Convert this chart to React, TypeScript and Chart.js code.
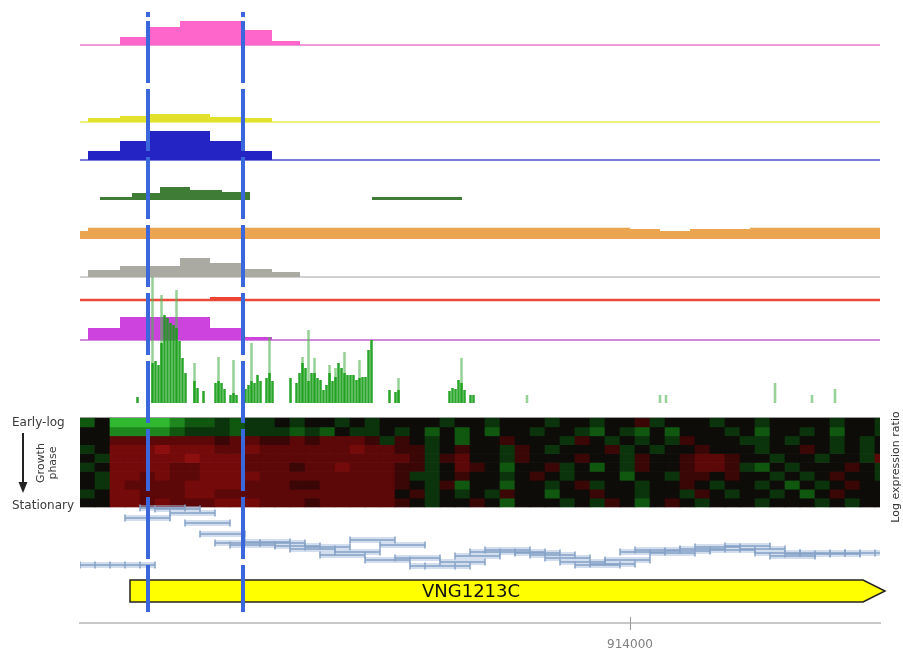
import React, { useEffect, useRef } from 'react';
import { Chart, registerables } from 'chart.js';

Chart.register(...registerables);

// ---------------- data (genomic coordinates in bp) ----------------
const xRange = [912900, 914500];
const xTickValues = [914000];

// shared bin edges of the step tracks
const binEdges = [912916, 912980, 913040, 913100, 913160, 913224, 913284, 913340];
const pinkValues = [0, 8, 18, 24, 24, 15, 4];
const yellowValues = [4, 6, 8, 8, 5, 4, 0];
const blueValues = [9, 19, 29, 29, 19, 9, 0];
const grayValues = [7, 11, 11, 19, 14, 8, 5];
const redValues = [0, 0, 0, 0, 3, 0, 0];
const magentaValues = [12, 23, 23, 23, 12, 3, 0];

const darkGreenEdges = [912940, 913004, 913060, 913120, 913184, 913240, 913484, 913664];
const darkGreenValues = [3, 7, 13, 10, 8, 0, 3];

const orangeEdges = [912900, 912916, 914000, 914060, 914120, 914240, 914500];
const orangeValues = [8, 11.3, 10, 8, 10, 11.3];

// read coverage (green bars), bins of 6 bp
const readBinStart = 913015;
const readBinStep = 6;
const readCounts = [
  6, 0, 0, 0, 0, 40, 42, 38, 60, 88, 85, 80, 78, 75, 62, 45, 30, 0, 0, 22,
  15, 0, 12, 0, 0, 0, 20, 22, 20, 14, 0, 8, 10, 8, 0, 0, 14, 18, 22, 20,
  28, 22, 0, 25, 30, 22, 0, 0, 0, 0, 0, 25, 0, 20, 30, 40, 35, 22, 30, 30,
  25, 23, 13, 18, 30, 22, 26, 40, 35, 30, 28, 28, 28, 23, 25, 26, 26, 53, 63, 0,
  0, 0, 0, 0, 13, 0, 11, 13, 0, 0, 0, 0, 0, 0, 0, 0, 0, 0, 0, 0,
  0, 0, 0, 0, 12, 15, 14, 23, 20, 13, 0, 8, 8,
];
const readPeaks = [
  [913045, 126], [913063, 108], [913093, 113], [913129, 40], [913177, 46],
  [913207, 43], [913243, 60], [913279, 66], [913345, 46], [913357, 73],
  [913369, 45], [913399, 38], [913411, 35], [913429, 51], [913459, 43],
  [913537, 25], [913663, 45],
];
const readIsolated = [
  [913794, 8], [914060, 8], [914072, 8], [914290, 20], [914364, 8], [914410, 14],
];

// expression heatmap: rows early-log -> stationary, one column per probe
// code: a..d = green (down) levels 1..4, 1..4 = red (up) levels, 0 = black
const heatStart = 912900;
const heatStep = 30;
const heatRows = [
  'b0ddddcbbabaa0a' + '00a0a0000a00a00' + '0a00a001a000a00' + 'a0000a00a',
  '00ccccbaaabaaab' + 'ab0aa0a0b0b0b00' + 'a00ab0ab0b000a0' + 'b00a0b00a',
  '002222222122112' + '12221a10a0b0010' + '00a10a0a0a1000a' + 'a0a00a0a0',
  'a03334333223222' + '22232211a0100a1' + '0a0001a0a001000' + 'a0010a0a0',
  '0a3333343332222' + '22222221a1200a1' + '000100a10012210' + '0a00a00a2',
  'a03333223332221' + '22322211a0210b0' + '01a0b0a1001221a' + 'b0a00010a',
  '0a3323223333222' + '2222221aa0100a0' + '10a000b00a11010' + '0a0a0100a',
  '0a3222233332221' + '12222210a1b00b0' + '0a01a00a0010a00' + 'a0b0a0100',
  'a03322233222222' + '22222201a0a0a10' + '0b00100a00a10a0' + '0a0b01000',
  '003323222333222' + '12222210a0010b0' + '00a0a10b010a000' + 'a000a0a00',
];

// tiling array probes (log ratio)
const tileStart = 912900;
const tileStep = 30;
const tileLength = 90;
const tileValues = [
  0, 0, 0, 2.35, 2.85, 2.8, 2.6, 2.1, 1.55, 1.1, 1.0, 1.15, 1.1, 0.95, 0.8,
  0.9, 0.5, 0.65, 1.25, 0.25, 1.0, 0.35, -0.05, -0.05, 0.15, 0.45, 0.65, 0.75,
  0.65, 0.6, 0.5, 0.35, 0.15, 0.0, 0.05, 0.25, 0.65, 0.75, 0.6, 0.7, 0.8, 0.9,
  0.75, 0.95, 0.8, 0.6, 0.45, 0.55, 0.6, 0.55, 0.6, 0.6, 0.6,
];

const genes = [{ name: 'VNG1213C', start: 913000, end: 914510, labelAt: 913682 }];
const markerPositions = [913036, 913226];

// ---------------- layout / style ----------------
const W = 903;
const H = 654;
const CHART_TOP = 0;
const CHART_BOTTOM = 623;
const FONT = '"DejaVu Sans", Verdana, sans-serif';

function trackAxis(basePx: number, pxPerUnit: number) {
  return {
    type: 'linear',
    display: false,
    min: -(CHART_BOTTOM - basePx) / pxPerUnit,
    max: (basePx - CHART_TOP) / pxPerUnit,
  };
}

function stepPoints(edges: number[], values: number[]) {
  const pts = values.map((v, i) => ({ x: edges[i], y: v }));
  pts.push({ x: edges[values.length], y: 0 });
  return pts;
}

function baseline(axis: string, color: string, width: number) {
  return {
    type: 'line',
    yAxisID: axis,
    data: [{ x: xRange[0], y: 0 }, { x: xRange[1], y: 0 }],
    borderColor: color,
    borderWidth: width,
    pointRadius: 0,
    fill: false,
    order: 6,
  };
}

function stepFill(axis: string, edges: number[], values: number[], color: string) {
  return {
    type: 'line',
    yAxisID: axis,
    data: stepPoints(edges, values),
    stepped: true,
    borderColor: 'rgba(0,0,0,0)',
    borderWidth: 1,
    backgroundColor: color,
    pointRadius: 0,
    fill: 'origin',
    order: 5,
  };
}

const greenShades = ['', 'rgb(12,52,12)', 'rgb(16,88,16)', 'rgb(30,135,30)', 'rgb(48,185,48)'];
const redShades = ['', 'rgb(58,6,6)', 'rgb(92,8,8)', 'rgb(116,10,10)', 'rgb(140,14,14)'];
function heatColor(ch: string) {
  const gi = 'abcd'.indexOf(ch);
  if (gi >= 0) return greenShades[gi + 1];
  const ri = '1234'.indexOf(ch);
  if (ri >= 0) return redShades[ri + 1];
  return 'rgb(14,12,9)';
}

const overlayPlugin = {
  id: 'overlay',
  afterDatasetsDraw(chart: any) {
    const { ctx, chartArea } = chart;
    const xs = chart.scales.x;
    ctx.save();
    // heatmap top border
    ctx.strokeStyle = '#9a9a9a';
    ctx.lineWidth = 1;
    ctx.beginPath();
    ctx.moveTo(chartArea.left, 417.5);
    ctx.lineTo(chartArea.right, 417.5);
    ctx.stroke();
    // genes
    genes.forEach((g) => {
      const x0 = xs.getPixelForValue(g.start);
      const tip = xs.getPixelForValue(g.end);
      const body = tip - 22;
      ctx.beginPath();
      ctx.moveTo(x0, 580);
      ctx.lineTo(body, 580);
      ctx.lineTo(tip, 591);
      ctx.lineTo(body, 602);
      ctx.lineTo(x0, 602);
      ctx.closePath();
      ctx.fillStyle = '#ffff00';
      ctx.fill();
      ctx.strokeStyle = '#222';
      ctx.lineWidth = 1.5;
      ctx.stroke();
      ctx.fillStyle = '#111';
      ctx.font = '18px ' + FONT;
      ctx.textAlign = 'center';
      ctx.textBaseline = 'middle';
      ctx.fillText(g.name, xs.getPixelForValue(g.labelAt), 592);
    });
    ctx.restore();
  },
  afterDraw(chart: any) {
    const { ctx } = chart;
    const xs = chart.scales.x;
    ctx.save();
    // tick crossing the axis line
    ctx.strokeStyle = '#999';
    ctx.lineWidth = 1;
    xTickValues.forEach((v) => {
      const px = Math.round(xs.getPixelForValue(v)) + 0.5;
      ctx.beginPath();
      ctx.moveTo(px, 617);
      ctx.lineTo(px, 630);
      ctx.stroke();
    });
    // marker lines
    ctx.strokeStyle = '#3a68dc';
    ctx.lineWidth = 4;
    markerPositions.forEach((m) => {
      const px = xs.getPixelForValue(m);
      ctx.setLineDash([]);
      ctx.beginPath();
      ctx.moveTo(px, 12);
      ctx.lineTo(px, 17);
      ctx.stroke();
      ctx.setLineDash([62, 6]);
      ctx.beginPath();
      ctx.moveTo(px, 21);
      ctx.lineTo(px, 612);
      ctx.stroke();
    });
    ctx.setLineDash([]);
    // left labels
    ctx.fillStyle = '#3a3a3a';
    ctx.font = '12px ' + FONT;
    ctx.textAlign = 'left';
    ctx.textBaseline = 'middle';
    ctx.fillText('Early-log', 12, 423);
    ctx.fillText('Stationary', 12, 506);
    ctx.strokeStyle = '#222';
    ctx.lineWidth = 2;
    ctx.beginPath();
    ctx.moveTo(23, 433);
    ctx.lineTo(23, 484);
    ctx.stroke();
    ctx.fillStyle = '#222';
    ctx.beginPath();
    ctx.moveTo(18.5, 482);
    ctx.lineTo(27.5, 482);
    ctx.lineTo(23, 493);
    ctx.closePath();
    ctx.fill();
    ctx.fillStyle = '#3a3a3a';
    ctx.font = '11px ' + FONT;
    ctx.textAlign = 'center';
    [['Growth', 41], ['phase', 53]].forEach(([t, px]) => {
      ctx.save();
      ctx.translate(px as number, 463);
      ctx.rotate(-Math.PI / 2);
      ctx.fillText(t as string, 0, 0);
      ctx.restore();
    });
    ctx.save();
    ctx.translate(896, 467);
    ctx.rotate(-Math.PI / 2);
    ctx.fillStyle = '#333';
    ctx.font = '11px ' + FONT;
    ctx.fillText('Log expression ratio', 0, 0);
    ctx.restore();
    ctx.restore();
  },
};

export default function App() {
  const ref = useRef<HTMLCanvasElement | null>(null);

  useEffect(() => {
    document.body.style.margin = '0';
    const canvas = ref.current;
    if (!canvas) return;

    const tilePoints: any[] = [];
    tileValues.forEach((v, i) => {
      const s = tileStart + tileStep * i;
      tilePoints.push({ x: s, y: v }, { x: s + tileLength, y: v }, { x: s + tileLength, y: null });
    });

    const heatSets = heatRows.map((row, r) => ({
      type: 'bar',
      xAxisID: 'xh',
      yAxisID: 'yHeat',
      grouped: false,
      barPercentage: 1,
      categoryPercentage: 1,
      data: Array.from(row).map((_, c) => ({
        x: heatStart + heatStep * (c + 0.5),
        y: [heatRows.length - r - 1, heatRows.length - r],
      })),
      backgroundColor: Array.from(row).map(heatColor),
      borderWidth: 0,
      order: 7,
    }));

    const datasets: any[] = [
      // tiles
      {
        type: 'line', yAxisID: 'yTile', data: tilePoints, spanGaps: false,
        borderColor: '#86a2c6', borderWidth: 1.5, pointStyle: 'line', rotation: 90,
        pointRadius: 3.5, pointBorderColor: '#86a2c6', pointBorderWidth: 1.5, fill: false, order: 1,
      },
      {
        type: 'line', yAxisID: 'yTile', data: tilePoints, spanGaps: false,
        borderColor: 'rgba(165,190,222,0.5)', borderWidth: 6, pointRadius: 0, fill: false, order: 2,
      },
      // reads
      {
        type: 'bar', yAxisID: 'yReads', grouped: false, barPercentage: 0.85, categoryPercentage: 1,
        data: readCounts.map((v, i) => ({ x: readBinStart + readBinStep * i, y: v })),
        backgroundColor: 'rgba(24,158,24,0.92)', borderWidth: 0, order: 3,
      },
      {
        type: 'bar', yAxisID: 'yReads', grouped: false, barPercentage: 0.85, categoryPercentage: 1,
        data: readPeaks.concat(readIsolated).map(([x, y]) => ({ x, y })),
        backgroundColor: 'rgba(80,180,80,0.6)', borderWidth: 0, order: 4,
      },
      // step tracks
      stepFill('yPink', binEdges, pinkValues, '#ff66cc'),
      baseline('yPink', '#f29ad8', 2),
      stepFill('yYellow', binEdges, yellowValues, '#e2e22c'),
      baseline('yYellow', '#eef07e', 2),
      stepFill('yBlue', binEdges, blueValues, '#2424c4'),
      baseline('yBlue', '#7b7bdc', 2),
      stepFill('yDkGreen', darkGreenEdges, darkGreenValues, '#3f7d36'),
      stepFill('yOrange', orangeEdges, orangeValues, '#eba450'),
      stepFill('yGray', binEdges, grayValues, '#aaaaa2'),
      baseline('yGray', '#d0d0d0', 2),
      stepFill('yRed', binEdges, redValues, '#ee4433'),
      baseline('yRed', '#ee4a3a', 2.5),
      stepFill('yMagenta', binEdges, magentaValues, '#cc44dd'),
      baseline('yMagenta', '#cc8ad8', 2),
      ...heatSets,
    ];

    Chart.defaults.font.family = FONT;

    const chart = new Chart(canvas, {
      type: 'line',
      data: { datasets },
      options: {
        animation: false,
        responsive: false,
        events: [],
        layout: { autoPadding: false, padding: { left: 80, right: 23, top: CHART_TOP, bottom: 0 } },
        plugins: { legend: { display: false }, tooltip: { enabled: false } },
        scales: {
          x: {
            type: 'linear',
            position: 'bottom',
            min: xRange[0],
            max: xRange[1],
            offset: false,
            afterBuildTicks: (axis: any) => {
              axis.ticks = xTickValues.map((v) => ({ value: v }));
            },
            afterFit: (axis: any) => {
              axis.height = H - CHART_BOTTOM;
            },
            border: { display: true, color: '#c8c8c8', width: 2 },
            grid: { display: false, drawTicks: false },
            ticks: {
              autoSkip: false,
              maxRotation: 0,
              padding: 15,
              color: '#808080',
              font: { size: 12, family: FONT },
              callback: (v: any) => String(v),
            },
          },
          xh: { type: 'linear', display: false, min: xRange[0], max: xRange[1], offset: false },
          yPink: trackAxis(45, 1),
          yYellow: trackAxis(122, 1),
          yBlue: trackAxis(160, 1),
          yDkGreen: trackAxis(200, 1),
          yOrange: trackAxis(239, 1),
          yGray: trackAxis(277, 1),
          yRed: trackAxis(300, 1),
          yMagenta: trackAxis(340, 1),
          yReads: trackAxis(403, 1),
          yHeat: trackAxis(507, 8.9),
          yTile: trackAxis(565, 20),
        } as any,
      },
      plugins: [overlayPlugin],
    } as any);

    return () => chart.destroy();
  }, []);

  return (
    <div style={{ width: W, height: H, background: '#fff' }}>
      <canvas ref={ref} width={W} height={H} style={{ display: 'block' }} />
    </div>
  );
}
